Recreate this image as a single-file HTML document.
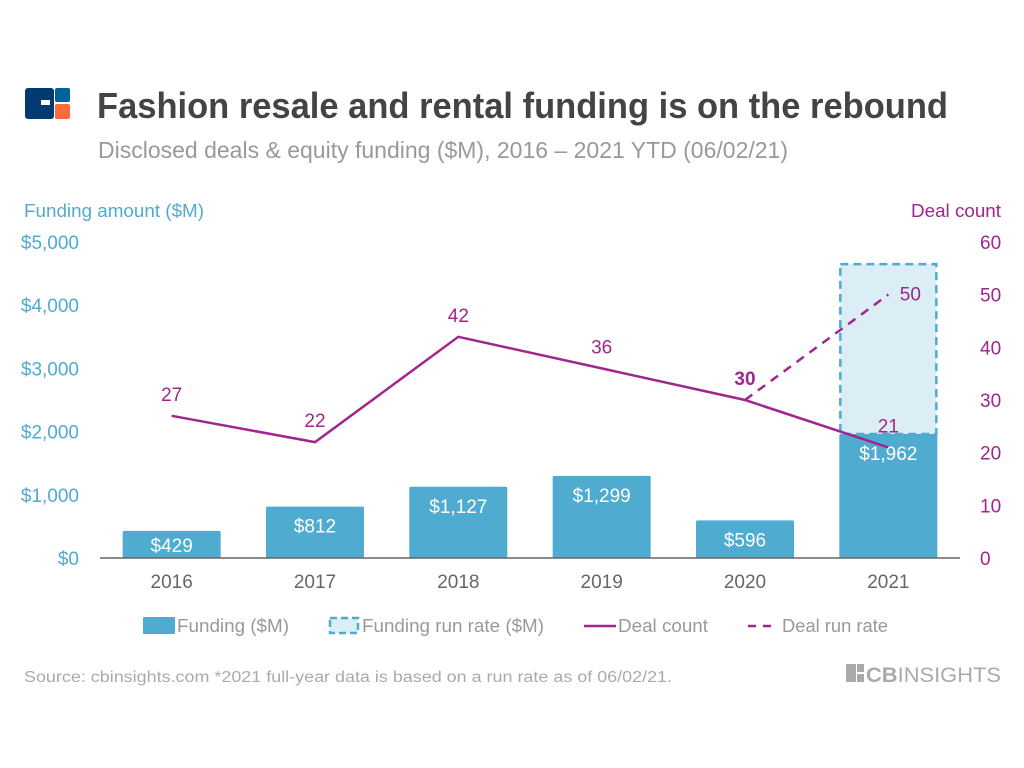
<!DOCTYPE html>
<html><head><meta charset="utf-8"><style>
html,body{margin:0;padding:0;background:#fff;}
svg{display:block;font-family:"Liberation Sans",sans-serif;}
</style></head><body>
<svg id="chart" width="1024" height="768" viewBox="0 0 1024 768">
  <g>
    <rect x="25" y="88" width="29" height="31" rx="3" fill="#003a70"/>
    <rect x="41" y="100" width="9" height="5" fill="#fff"/>
    <rect x="55" y="88" width="15" height="14" rx="2" fill="#00629b"/>
    <rect x="55" y="104" width="15" height="15" rx="2" fill="#ff6a39"/>
  </g>
  <text x="97" y="118" font-size="36" font-weight="bold" fill="#444" textLength="851" lengthAdjust="spacingAndGlyphs">Fashion resale and rental funding is on the rebound</text>
  <text x="98" y="158" font-size="23" fill="#999" textLength="690" lengthAdjust="spacingAndGlyphs">Disclosed deals &amp; equity funding ($M), 2016 – 2021 YTD (06/02/21)</text>
  <text x="24" y="217" font-size="18" fill="#4fabd0" textLength="180" lengthAdjust="spacingAndGlyphs">Funding amount ($M)</text>
  <text x="1001" y="217" font-size="18" fill="#a0268e" text-anchor="end" textLength="90" lengthAdjust="spacingAndGlyphs">Deal count</text>
  <g id="left-ticks"></g>
  <g id="right-ticks"></g>
  <g id="bars"></g>
  <line x1="100" y1="558" x2="960" y2="558" stroke="#666" stroke-width="1.5"/>
  <g id="xlabels"></g>
  <g id="lines"></g>
  <g font-size="18" fill="#999">
    <g>
      <rect x="143" y="617" width="32" height="17" rx="1" fill="#4fabd0"/>
      <text x="177" y="632" textLength="112" lengthAdjust="spacingAndGlyphs">Funding ($M)</text>
    </g>
    <g>
      <rect x="330" y="618" width="28" height="15" fill="#dbedf5" stroke="#4fabd0" stroke-width="2.5" stroke-dasharray="7,4"/>
      <text x="362" y="632" textLength="182" lengthAdjust="spacingAndGlyphs">Funding run rate ($M)</text>
    </g>
    <g>
      <line x1="584" y1="626" x2="616" y2="626" stroke="#a0268e" stroke-width="2.5"/>
      <text x="618" y="632" textLength="90" lengthAdjust="spacingAndGlyphs">Deal count</text>
    </g>
    <g>
      <line x1="748" y1="626" x2="778" y2="626" stroke="#a0268e" stroke-width="2.5" stroke-dasharray="8,7"/>
      <text x="782" y="632" textLength="106" lengthAdjust="spacingAndGlyphs">Deal run rate</text>
    </g>
  </g>
  <text x="24" y="682" font-size="15.5" fill="#aaa" textLength="648" lengthAdjust="spacingAndGlyphs">Source: cbinsights.com  *2021 full-year data is based on a run rate as of 06/02/21.</text>
  <g>
    <rect x="846" y="664" width="10" height="18" fill="#aaa"/>
    <rect x="857" y="664" width="7" height="8" fill="#aaa"/>
    <rect x="857" y="674" width="7" height="8" fill="#aaa"/>
    <text x="866" y="682" font-size="21" fill="#aaa" textLength="135" lengthAdjust="spacingAndGlyphs"><tspan font-weight="bold">CB</tspan>INSIGHTS</text>
  </g>
</svg>
<script>
const years = ["2016","2017","2018","2019","2020","2021"];
const funding = [429, 812, 1127, 1299, 596, 1962];
const fundingLabels = ["$429","$812","$1,127","$1,299","$596","$1,962"];
const fundingRunRate = [null, null, null, null, null, 4650];
const dealCount = [27, 22, 42, 36, 30, 21];
const dealRunRate = [null, null, null, null, 30, 50];
const leftTicks = [0, 1000, 2000, 3000, 4000, 5000];
const leftTickLabels = ["$0","$1,000","$2,000","$3,000","$4,000","$5,000"];
const rightTicks = [0, 10, 20, 30, 40, 50, 60];

const NS = "http://www.w3.org/2000/svg";
const X0 = 100, X1 = 960, Y0 = 558, YT = 242;
const band = (X1 - X0) / years.length;
const xc = i => X0 + band * (i + 0.5);
const yL = v => Y0 - (v / 5000) * (Y0 - YT);
const yR = v => Y0 - (v / 60) * (Y0 - YT);
const barW = 98;
function mk(tag, attrs, parent, text) {
  const e = document.createElementNS(NS, tag);
  for (const k in attrs) e.setAttribute(k, attrs[k]);
  if (text !== undefined) e.textContent = text;
  parent.appendChild(e);
  return e;
}
const lt = document.getElementById("left-ticks");
leftTicks.forEach((v, i) => {
  const t = mk("text", {x: 79, y: yL(v) + 7, "font-size": 19, fill: "#4fabd0", "text-anchor": "end"}, lt, leftTickLabels[i]);
  
  
});
const rt = document.getElementById("right-ticks");
rightTicks.forEach(v => {
  const t = mk("text", {x: 980, y: yR(v) + 7, "font-size": 19, fill: "#a0268e"}, rt, String(v));
  
  
});
const bg = document.getElementById("bars");
years.forEach((yr, i) => {
  if (fundingRunRate[i] != null) {
    const r = mk("rect", {x: xc(i) - barW/2 + 1, y: yL(fundingRunRate[i]), width: barW - 2, height: yL(funding[i]) - yL(fundingRunRate[i]), fill: "#dbedf5", stroke: "#4fabd0", "stroke-width": 2.5, "stroke-dasharray": "8,5"}, bg);
    
    
  }
  const b = mk("rect", {x: xc(i) - barW/2, y: yL(funding[i]), width: barW, height: Y0 - yL(funding[i]), fill: "#4fabd0", rx: 1.5}, bg);
  
  
  const off = Math.min(26, (Y0 - yL(funding[i])) - 6);
  const l = mk("text", {x: xc(i), y: yL(funding[i]) + off, "font-size": 19, fill: "#fff", "text-anchor": "middle"}, bg, fundingLabels[i]);
  
  
});
const xg = document.getElementById("xlabels");
years.forEach((yr, i) => {
  const t = mk("text", {x: xc(i), y: 588, "font-size": 19, fill: "#666", "text-anchor": "middle"}, xg, yr);
  
  
});
const lg = document.getElementById("lines");
const pts = dealCount.map((v, i) => xc(i) + "," + yR(v)).join(" ");
const pl = mk("polyline", {points: pts, fill: "none", stroke: "#a0268e", "stroke-width": 2.5}, lg);


const rp = [];
dealRunRate.forEach((v, i) => { if (v != null) rp.push(xc(i) + "," + yR(v)); });
const dl = mk("polyline", {points: rp.join(" "), fill: "none", stroke: "#a0268e", "stroke-width": 2.5, "stroke-dasharray": "9,7"}, lg);


dealCount.forEach((v, i) => {
  const bold = i === 4;
  const t = mk("text", {x: xc(i), y: yR(v) - 15, "font-size": 19, fill: "#a0268e", "text-anchor": "middle", "font-weight": bold ? "bold" : "normal"}, lg, String(v));
  
  
});
dealRunRate.forEach((v, i) => {
  if (v == null || i !== dealRunRate.length - 1) return;
  const t = mk("text", {x: xc(i) + 22, y: yR(v) + 6, "font-size": 19, fill: "#a0268e", "text-anchor": "middle"}, lg, String(v));
  
  
});
</script>
</body></html>
